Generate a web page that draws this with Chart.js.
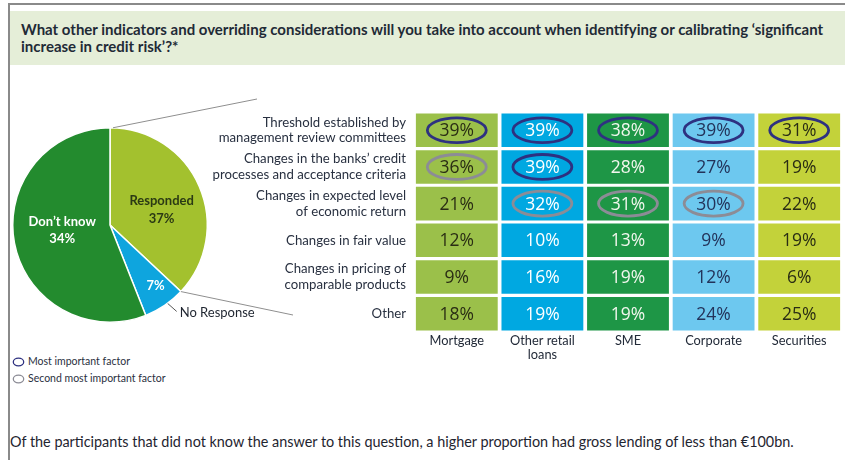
<!DOCTYPE html>
<html>
<head>
<meta charset="utf-8">
<script src="https://cdn.jsdelivr.net/npm/chart.js@4.4.0/dist/chart.umd.min.js"></script>
<style>
  body{margin:0;width:845px;height:460px;background:#fff;overflow:hidden;position:relative;font-family:Lato,"Open Sans",sans-serif;color:#222a38;}
  #frameTop{position:absolute;left:8px;top:3px;width:837px;height:2px;background:#8a8a8a;}
  #frameLeft{position:absolute;left:8px;top:3px;width:2px;height:457px;background:#8a8a8a;}
  #header{position:absolute;left:10px;top:11px;width:835px;height:54px;background:#e5eed8;}
  #title{position:absolute;left:21px;top:21px;width:820px;font-weight:bold;font-size:15px;line-height:17px;color:#1f2a36;white-space:nowrap;}
  #pieWrap{position:absolute;left:0;top:90px;width:420px;height:250px;}
  #tableWrap{position:absolute;left:200px;top:96px;width:645px;height:272px;}
  .legend{position:absolute;left:12px;font-size:10.5px;color:#2a3040;}
  .legend svg{vertical-align:middle;margin-right:3px;}
  #footer{position:absolute;left:10px;top:433px;font-size:14.4px;color:#1f2530;white-space:nowrap;}
</style>
</head>
<body>
<div id="frameTop"></div>
<div id="frameLeft"></div>
<div id="header"></div>
<div id="title">What other indicators and overriding considerations will you take into account when identifying or calibrating ‘significant<br>increase in credit risk’?*</div>

<div id="pieWrap"><canvas id="pieChart"></canvas></div>
<div id="tableWrap"><canvas id="tableChart"></canvas></div>

<div class="legend" style="top:355px"><svg width="13" height="10"><ellipse cx="6.5" cy="5" rx="5.2" ry="3.8" fill="none" stroke="#2e3180" stroke-width="1.3"/></svg>Most important factor</div>
<div class="legend" style="top:372px"><svg width="13" height="10"><ellipse cx="6.5" cy="5" rx="5.2" ry="3.8" fill="none" stroke="#8c8c96" stroke-width="1.3"/></svg>Second most important factor</div>

<div id="footer">Of the participants that did not know the answer to this question, a higher proportion had gross lending of less than €100bn.</div>

<script>
// pie: slice sizes as drawn, printed labels as in the source
const pieNames = ["Responded", "No Response", "Don’t know"];
const pieSlices = [37, 7, 56];
const piePrinted = ["37%", "7%", "34%"];
const pieColors = ["#a3c12e", "#0ea5de", "#238b2e"];

// table
const products = ["Mortgage", ["Other retail", "loans"], "SME", "Corporate", "Securities"];
const factors = [
    ["Threshold established by", "management review committees"],
    ["Changes in the banks’ credit", "processes and acceptance criteria"],
    ["Changes in expected level", "of economic return"],
    "Changes in fair value",
    ["Changes in pricing of", "comparable products"],
    "Other"
];
const mortgage     = [39, 36, 21, 12, 9, 18];
const otherRetail  = [39, 39, 32, 10, 16, 19];
const sme          = [38, 28, 31, 13, 19, 19];
const corporate    = [39, 27, 30, 9, 12, 24];
const securities   = [31, 19, 22, 19, 6, 25];
// 1 = most important factor, 2 = second most important
const mortgageRank    = [1, 2, 0, 0, 0, 0];
const otherRetailRank = [1, 1, 2, 0, 0, 0];
const smeRank         = [1, 0, 2, 0, 0, 0];
const corporateRank   = [1, 0, 2, 0, 0, 0];
const securitiesRank  = [1, 0, 0, 0, 0, 0];

const FONT = "Lato, 'Open Sans', sans-serif";

const pieLabels = {
    id: "pieLabels",
    afterDatasetsDraw(chart){
        const ctx = chart.ctx;
        const arcs = chart.getDatasetMeta(0).data;
        const resp = arcs[0], nores = arcs[1], dk = arcs[2];
        const cx = resp.x, cy = resp.y, r = resp.outerRadius;
        ctx.save();
        // connector lines towards the table
        ctx.strokeStyle = "#8f8f8f";
        ctx.lineWidth = 1;
        ctx.beginPath();
        ctx.moveTo(cx + 3, cy - r);
        ctx.lineTo(257, 9);
        const a = resp.endAngle;
        ctx.moveTo(cx + Math.cos(a) * r, cy + Math.sin(a) * r);
        ctx.lineTo(293, 225);
        ctx.stroke();
        // leader for "No Response"
        const m = (nores.startAngle + nores.endAngle) / 2;
        const rx = cx + Math.cos(m) * r, ry = cy + Math.sin(m) * r;
        ctx.strokeStyle = "#555";
        ctx.beginPath();
        ctx.moveTo(rx + 3, ry - 2);
        ctx.lineTo(rx + 12, ry + 6);
        ctx.stroke();
        ctx.textBaseline = "middle";
        ctx.textAlign = "left";
        ctx.fillStyle = "#1f2530";
        ctx.font = "13px " + FONT;
        ctx.fillText(pieNames[1], rx + 15, ry + 7);
        // in-slice labels
        ctx.textAlign = "center";
        ctx.font = "bold 13px " + FONT;
        const p0 = resp.tooltipPosition();
        ctx.fillStyle = "#2b3a14";
        ctx.fillText(pieNames[0], p0.x + 7, p0.y - 5);
        ctx.fillText(piePrinted[0], p0.x + 7, p0.y + 13);
        const p2 = dk.tooltipPosition();
        ctx.fillStyle = "#ffffff";
        ctx.fillText(pieNames[2], p2.x, p2.y - 12);
        ctx.fillText(piePrinted[2], p2.x, p2.y + 5);
        ctx.fillText(piePrinted[1], cx + Math.cos(m) * r * 0.76 + 4, cy + Math.sin(m) * r * 0.76);
        ctx.restore();
    }
};

new Chart(document.getElementById("pieChart"), {
    type: "pie",
    data: {
        labels: pieNames,
        datasets: [{
            data: pieSlices,
            backgroundColor: pieColors,
            borderColor: "#ffffff",
            borderWidth: 1.5
        }]
    },
    options: {
        responsive: true,
        maintainAspectRatio: false,
        animation: false,
        layout: {padding: {left: 12, top: 37, right: 212, bottom: 17}},
        plugins: {legend: {display: false}, tooltip: {enabled: false}}
    },
    plugins: [pieLabels]
});

// table drawn as floating horizontal bars, one dataset per product
const columns = [
    {values: mortgage, rank: mortgageRank, fill: "#9bc04a", text: "#2a2d14"},
    {values: otherRetail, rank: otherRetailRank, fill: "#00a8e1", text: "#ffffff"},
    {values: sme, rank: smeRank, fill: "#1e9646", text: "#f2f7ee"},
    {values: corporate, rank: corporateRank, fill: "#6dc8ef", text: "#23335a"},
    {values: securities, rank: securitiesRank, fill: "#c3d23a", text: "#2a2d14"}
];
const cellGap = 0.022;

const cellText = {
    id: "cellText",
    afterDatasetsDraw(chart){
        const ctx = chart.ctx;
        ctx.save();
        ctx.textAlign = "center";
        ctx.textBaseline = "middle";
        chart.data.datasets.forEach((ds, di) => {
            const col = columns[di];
            chart.getDatasetMeta(di).data.forEach((bar, ri) => {
                const c = bar.getCenterPoint();
                const w = Math.abs(bar.x - bar.base);
                const rank = col.rank[ri];
                if(rank){
                    ctx.strokeStyle = rank === 1 ? "#2e3180" : "#8c8c96";
                    ctx.lineWidth = 2.8;
                    ctx.beginPath();
                    ctx.ellipse(c.x, c.y, w * 0.36, bar.height * 0.37, 0, 0, Math.PI * 2);
                    ctx.stroke();
                }
                ctx.fillStyle = col.text;
                ctx.font = "17.5px 'Open Sans', sans-serif";
                ctx.fillText(col.values[ri] + "%", c.x, c.y + 1);
            });
        });
        ctx.restore();
    }
};

new Chart(document.getElementById("tableChart"), {
    type: "bar",
    data: {
        labels: factors,
        datasets: columns.map((col, i) => ({
            label: Array.isArray(products[i]) ? products[i].join(" ") : products[i],
            data: col.values.map(() => [i + cellGap, i + 1 - cellGap]),
            backgroundColor: col.fill,
            borderWidth: 0,
            grouped: false,
            categoryPercentage: 1,
            barPercentage: 0.915
        }))
    },
    options: {
        indexAxis: "y",
        responsive: true,
        maintainAspectRatio: false,
        animation: false,
        layout: {padding: {top: 0, right: 3, left: 0, bottom: 0}},
        scales: {
            x: {
                type: "linear",
                min: 0,
                max: products.length,
                afterBuildTicks: axis => { axis.ticks = products.map((p, i) => ({value: i + 0.5})); },
                afterFit: axis => { axis.height = 36; },
                ticks: {
                    callback: (v, i) => products[i],
                    color: "#222a38",
                    font: {family: FONT, size: 12.8, lineHeight: 1.1},
                    padding: 2,
                    maxRotation: 0,
                    autoSkip: false
                },
                grid: {display: false, drawTicks: false},
                border: {display: false}
            },
            y: {
                afterFit: axis => { axis.width = 214; },
                ticks: {
                    color: "#283040",
                    font: {family: FONT, size: 13.2, lineHeight: 1.2},
                    padding: 8,
                    autoSkip: false
                },
                grid: {display: false, drawTicks: false},
                border: {display: false}
            }
        },
        plugins: {legend: {display: false}, tooltip: {enabled: false}}
    },
    plugins: [cellText]
});
</script>
</body>
</html>
